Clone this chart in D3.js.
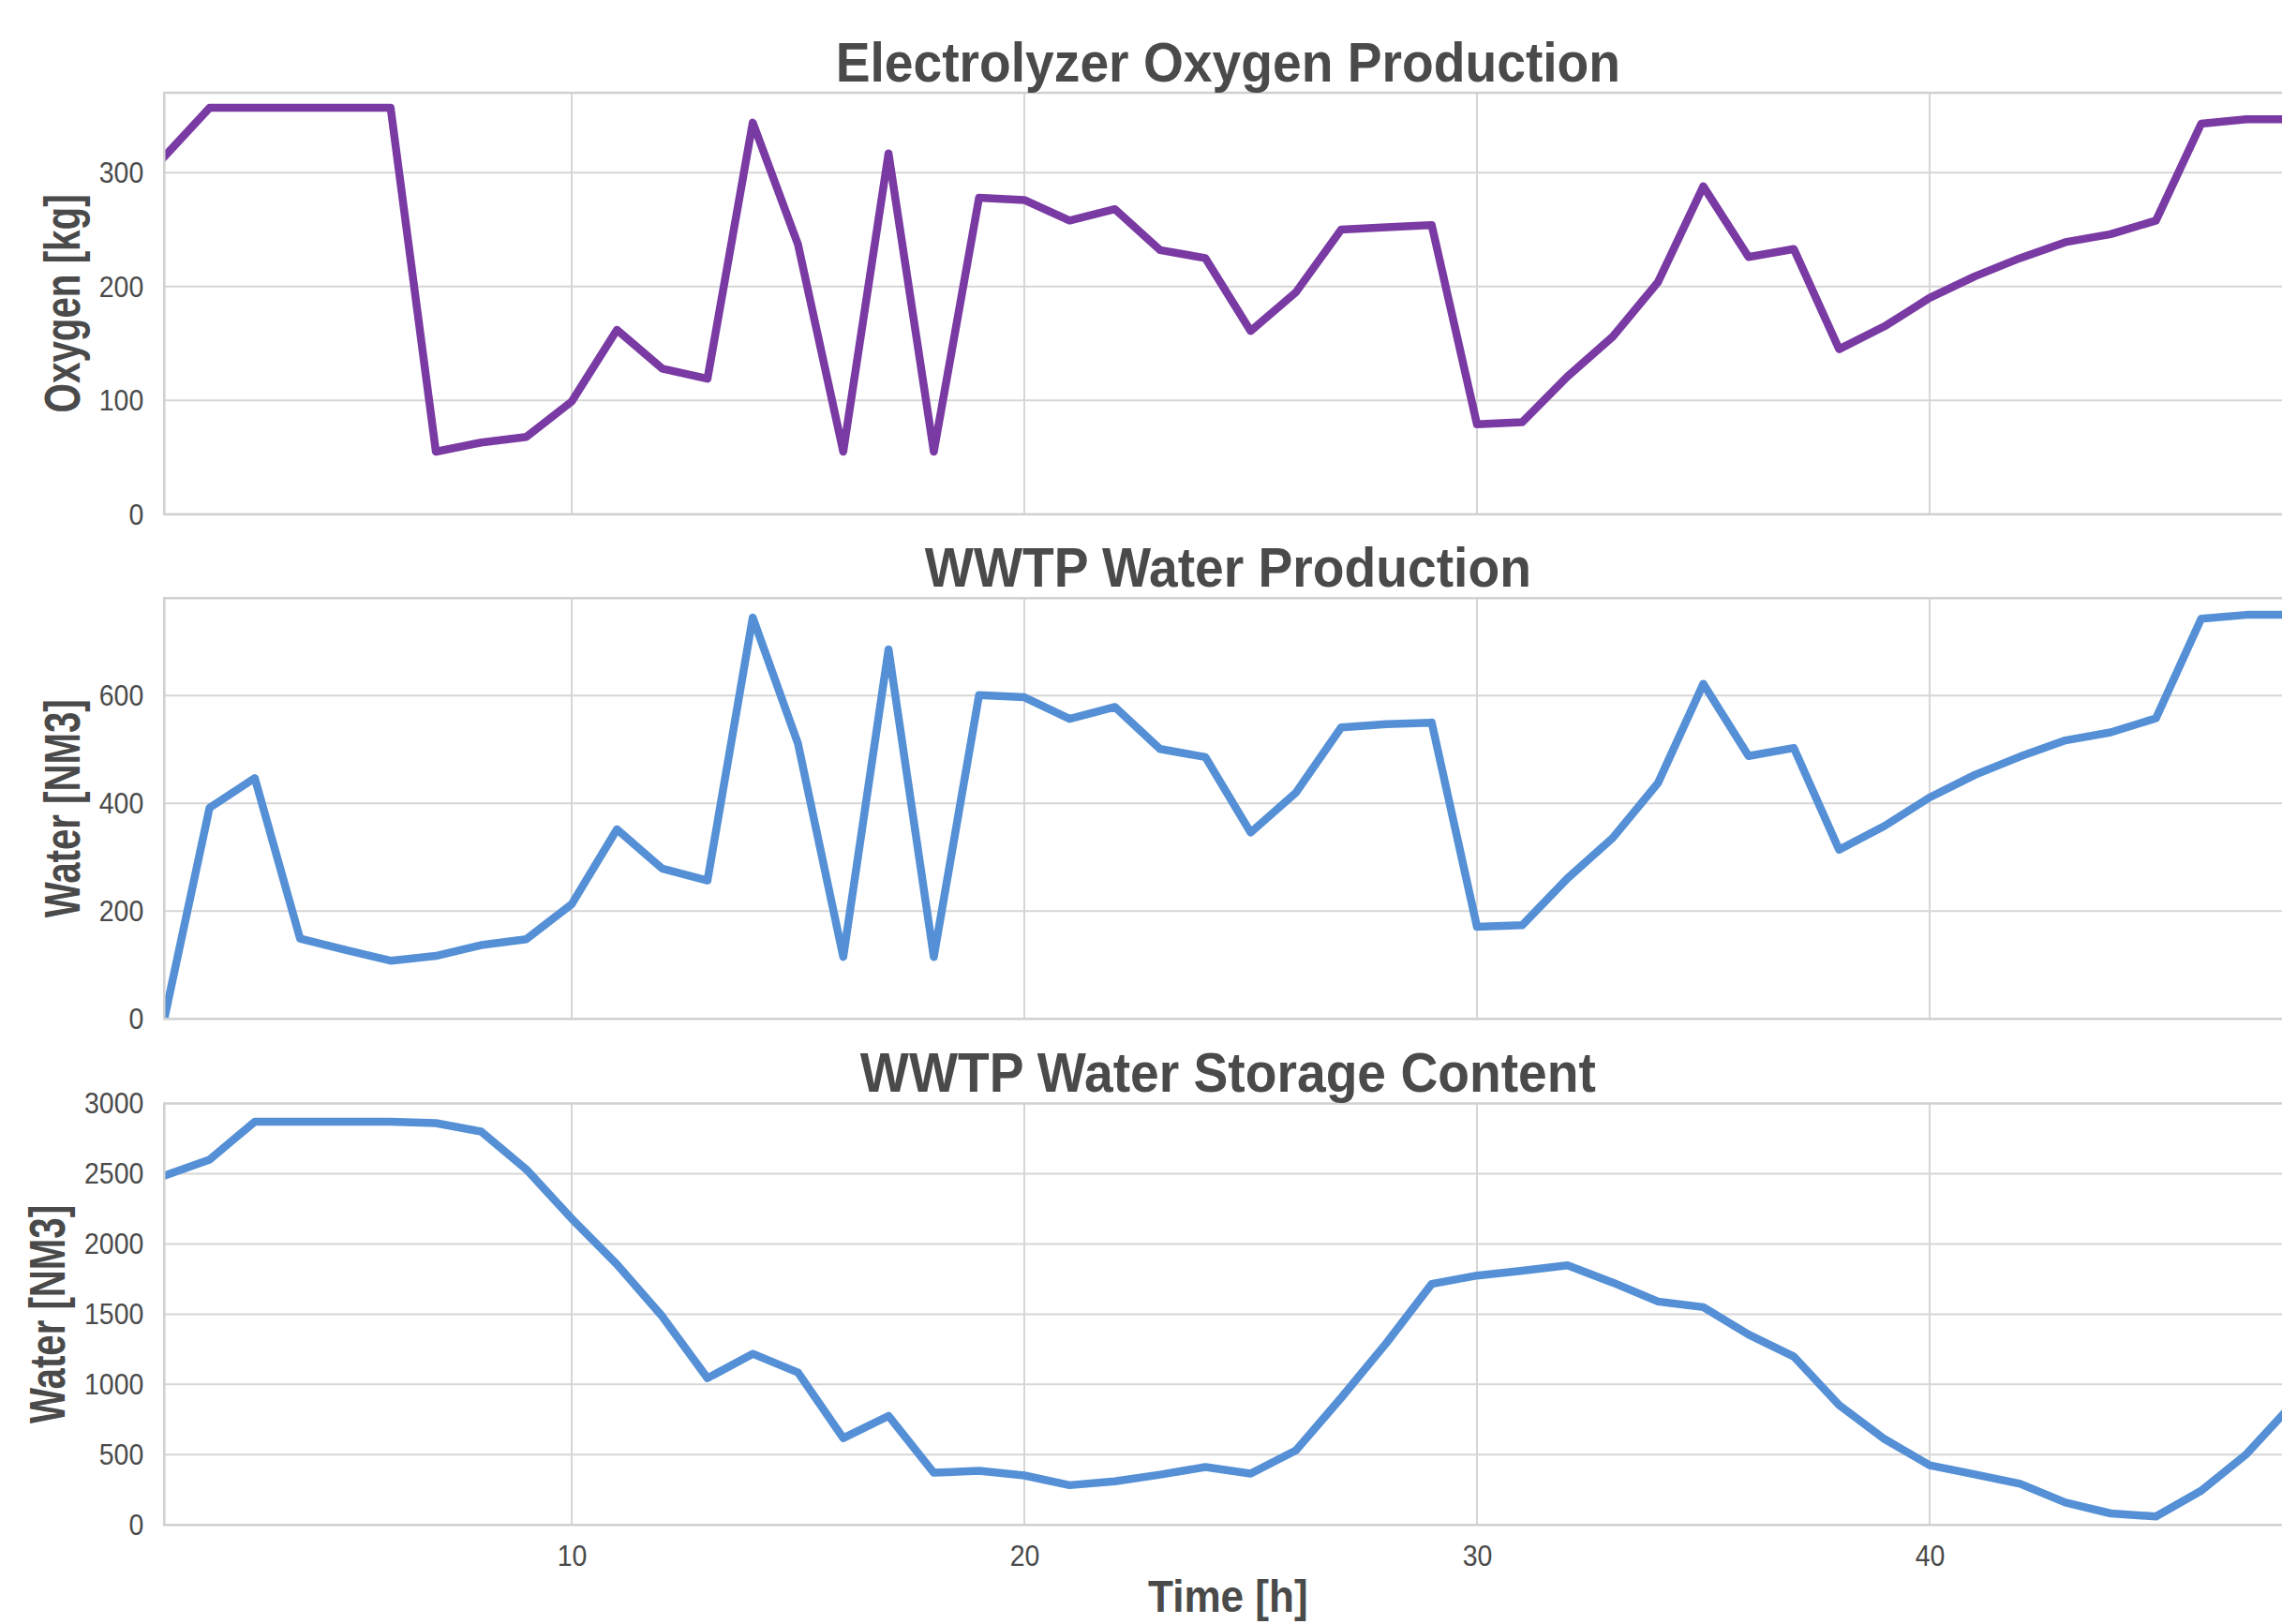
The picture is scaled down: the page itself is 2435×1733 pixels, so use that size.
<!DOCTYPE html>
<html>
<head>
<meta charset="utf-8">
<script src="https://cdn.jsdelivr.net/npm/d3@7"></script>
<style>
  html, body { margin: 0; padding: 0; background: #ffffff; }
  svg { display: block; }
  text { font-family: "Liberation Sans", Arial, Helvetica, sans-serif; fill: #4a4a4a; }
</style>
</head>
<body>
<svg id="chart" width="2435" height="1733"></svg>
<script>
// Hourly simulation output
const hours = [1, 2, 3, 4, 5, 6, 7, 8, 9, 10, 11, 12, 13, 14, 15, 16, 17, 18, 19, 20, 21, 22, 23, 24,
               25, 26, 27, 28, 29, 30, 31, 32, 33, 34, 35, 36, 37, 38, 39, 40, 41, 42, 43, 44, 45, 46, 47, 48];

const oxygenKg = [314, 357, 357, 357, 357, 357, 55, 63, 68, 99, 162, 128, 119, 344, 237, 55,
                  317, 55, 278, 276, 258, 268, 232, 225, 161, 195, 250, 252, 254, 79, 81, 121,
                  156, 204, 288, 226, 233, 145, 165, 190, 209, 225, 239, 246, 258, 343, 347, 347];

const waterProductionNm3 = [0, 392, 447, 149, 128, 108, 117, 137, 148, 213, 352, 279, 257, 745, 511, 115,
                            686, 115, 601, 597, 557, 579, 501, 486, 346, 420, 541, 547, 550, 171, 174, 261,
                            336, 438, 622, 488, 503, 314, 358, 411, 453, 487, 517, 532, 558, 743, 750, 750];

const waterStorageNm3 = [2485, 2600, 2870, 2870, 2870, 2870, 2860, 2800, 2530, 2180, 1855, 1485, 1045, 1218, 1085, 618,
                         776, 372, 385, 352, 283, 310, 358, 412, 365, 530, 905, 1295, 1715, 1775, 1810, 1848,
                         1725, 1590, 1550, 1355, 1198, 853, 612, 425, 360, 293, 160, 82, 60, 244, 504, 855];

const oxygenTicks = [0, 100, 200, 300];
const productionTicks = [0, 200, 400, 600];
const storageTicks = [0, 500, 1000, 1500, 2000, 2500, 3000];
const timeTicks = [10, 20, 30, 40];

const titles = ["Electrolyzer Oxygen Production", "WWTP Water Production", "WWTP Water Storage Content"];
const yLabels = ["Oxygen [kg]", "Water [NM3]", "Water [NM3]"];
const xLabel = "Time [h]";

const purple = "#7a3aa3";
const blue = "#5590d6";
const gridColor = "#d6d6d6";
const spineColor = "#d0d0d0";

// Layout
const plotLeft = 175.3, plotRight = 2445.4;
const panels = [
  { values: oxygenKg,           ticks: oxygenTicks,     yMax: 370.2, color: purple, top: 99.0,   bottom: 548.8,  labelX: 85.4 },
  { values: waterProductionNm3, ticks: productionTicks, yMax: 781,   color: blue,   top: 638.3,  bottom: 1087.3, labelX: 85.4 },
  { values: waterStorageNm3,    ticks: storageTicks,    yMax: 3000,  color: blue,   top: 1177.5, bottom: 1627.3, labelX: 68.6 }
];

const svg = d3.select("#chart");
const x = d3.scaleLinear().domain([1, 48]).range([plotLeft, plotRight]);
const tickFmt = d3.format("d");

// Narrow the glyph run of a text element to k times its natural length
function squeeze(sel, k) {
  sel.each(function () {
    const L = this.getComputedTextLength();
    this.setAttribute("textLength", L * k);
    this.setAttribute("lengthAdjust", "spacingAndGlyphs");
  });
}

panels.forEach((p, i) => {
  const y = d3.scaleLinear().domain([0, p.yMax]).range([p.bottom, p.top]);
  const g = svg.append("g");

  const clipId = "clip" + i;
  svg.append("defs").append("clipPath").attr("id", clipId)
    .append("rect")
    .attr("x", plotLeft).attr("y", p.top)
    .attr("width", plotRight - plotLeft).attr("height", p.bottom - p.top);

  // horizontal grid
  g.append("g").selectAll("line").data(p.ticks.filter(t => t > 0 && t < p.yMax)).join("line")
    .attr("x1", plotLeft).attr("x2", plotRight)
    .attr("y1", d => y(d)).attr("y2", d => y(d))
    .attr("stroke", gridColor).attr("stroke-width", 2);

  // vertical grid
  g.append("g").selectAll("line").data(timeTicks).join("line")
    .attr("x1", d => x(d)).attr("x2", d => x(d))
    .attr("y1", p.top).attr("y2", p.bottom)
    .attr("stroke", gridColor).attr("stroke-width", 2);

  // series line
  const line = d3.line().x((d, j) => x(hours[j])).y(d => y(d));
  g.append("path")
    .datum(p.values)
    .attr("clip-path", `url(#${clipId})`)
    .attr("fill", "none")
    .attr("stroke", p.color)
    .attr("stroke-width", 8.5)
    .attr("stroke-linejoin", "round")
    .attr("stroke-linecap", "square")
    .attr("d", line);

  // frame
  g.append("rect")
    .attr("x", plotLeft).attr("y", p.top)
    .attr("width", plotRight - plotLeft).attr("height", p.bottom - p.top)
    .attr("fill", "none").attr("stroke", spineColor).attr("stroke-width", 2.5);

  // y axis labels
  const yAxis = g.append("g")
    .attr("transform", `translate(${plotLeft},0)`)
    .call(d3.axisLeft(y).tickValues(p.ticks).tickFormat(tickFmt).tickSize(0).tickPadding(22));
  yAxis.select(".domain").remove();
  yAxis.selectAll("text")
    .attr("font-family", null)
    .style("font-size", "32px")
    .style("fill", "#4a4a4a")
    .call(squeeze, 0.89);

  // title
  g.append("text")
    .attr("x", (plotLeft + plotRight) / 2)
    .attr("y", p.top - 12.3)
    .attr("text-anchor", "middle")
    .style("font-size", "60px")
    .style("font-weight", "bold")
    .text(titles[i])
    .call(squeeze, 0.92);

  // y axis title
  g.append("text")
    .attr("transform", `translate(${p.labelX},${(p.top + p.bottom) / 2}) rotate(-90)`)
    .attr("text-anchor", "middle")
    .style("font-size", "54px")
    .style("font-weight", "bold")
    .attr("textLength", 233)
    .attr("lengthAdjust", "spacingAndGlyphs")
    .text(yLabels[i]);

  // time axis on the last panel
  if (i === panels.length - 1) {
    const xAxis = g.append("g")
      .attr("transform", `translate(0,${p.bottom})`)
      .call(d3.axisBottom(x).tickValues(timeTicks).tickFormat(tickFmt).tickSize(0).tickPadding(21));
    xAxis.select(".domain").remove();
    xAxis.selectAll("text")
      .attr("font-family", null)
      .style("font-size", "32px")
      .style("fill", "#4a4a4a")
      .call(squeeze, 0.89);

    g.append("text")
      .attr("x", (plotLeft + plotRight) / 2)
      .attr("y", 1720)
      .attr("text-anchor", "middle")
      .style("font-size", "49px")
      .style("font-weight", "bold")
      .text(xLabel)
      .call(squeeze, 0.9);
  }
});
</script>
</body>
</html>
